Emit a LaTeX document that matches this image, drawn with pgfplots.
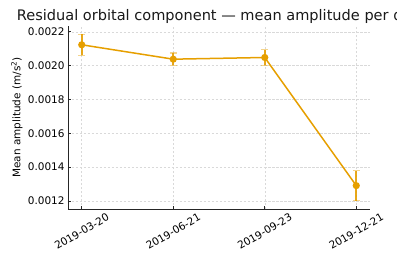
\documentclass[border=0pt]{standalone}
\usepackage{fontspec}
\setmainfont{DejaVu Sans}
\usepackage{pgfplots}
\pgfplotsset{compat=1.18}
\definecolor{orng}{HTML}{E69F00}
\begin{document}
\begin{tikzpicture}
\useasboundingbox (-68bp,-55bp) rectangle (329bp,209bp);
\begin{axis}[
  at={(0,0)}, anchor=south west,
  scale only axis, width=302bp, height=183bp,
  xmin=-0.15, xmax=3.15, ymin=0.001153, ymax=0.002234,
  axis x line*=bottom, axis y line*=left,
  axis line style={line width=0.8bp, color=black!85, -},
  xtick={0,1,2,3},
  xticklabels={2019-03-20,2019-06-21,2019-09-23,2019-12-21},
  ytick={0.0012,0.0014,0.0016,0.0018,0.0020,0.0022},
  scaled y ticks=false,
  yticklabel style={/pgf/number format/.cd, fixed, fixed zerofill, precision=4, assume math mode=true},
  tick label style={font=\fontsize{10.5}{12}\selectfont, color=black},
  xticklabel style={rotate=30, anchor=center},
  xticklabel shift=22.5bp,
  tick align=inside, major tick length=3.5bp,
  tick style={line width=0.8bp, color=black!85},
  grid=major,
  grid style={dash pattern=on 2.5bp off 1.5bp, line width=0.5bp, color=black!15},
  ylabel={Mean amplitude (m/s\textsuperscript{2})},
  every axis y label/.style={at={(axis description cs:-0.1573,0.5)}, rotate=90, anchor=base, font=\fontsize{10.5}{12}\selectfont},
]
\addplot[color=orng, line width=1.5bp, mark=*, mark size=2.8bp,
  mark options={fill=orng, draw=orng},
  error bars/.cd, y dir=both, y explicit,
  error bar style={line width=1.8bp, color=orng, opacity=0.9},
  error mark options={mark size=3.5bp, line width=1.2bp, color=orng, opacity=0.45, rotate=90}]
coordinates {
  (0,0.002123) +- (0,0.000062)
  (1,0.002038) +- (0,0.000037)
  (2,0.002048) +- (0,0.000047)
  (3,0.001291) +- (0,0.000089)
};
\end{axis}
\node[anchor=base west, font=\fontsize{14.6}{17}\selectfont, color=black!90, inner sep=0pt] at (-51.3bp,188.3bp) {Residual orbital component — mean amplitude per date};
\end{tikzpicture}
\end{document}
